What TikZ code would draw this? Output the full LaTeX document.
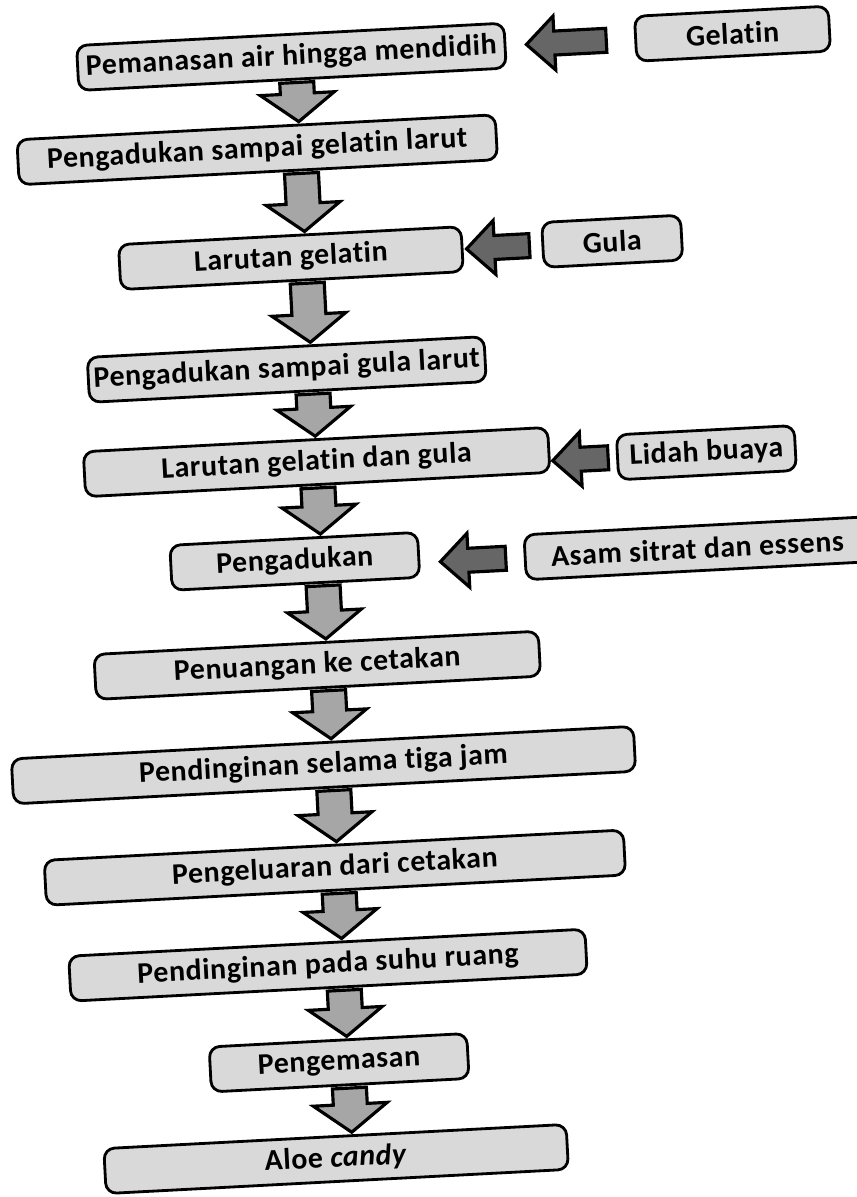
\documentclass[tikz,border=0pt]{standalone}
\usepackage{fontspec}
\setmainfont{Carlito}[Ligatures=NoCommon, LetterSpace=2]
\usetikzlibrary{positioning, calc}
\tikzset{
  stepbox/.style={rectangle, rounded corners=6pt, draw=black, line width=1.6pt,
                  fill=black!15, minimum height=0.9cm, inner sep=3pt,
                  font=\fontsize{17}{20}\selectfont\bfseries},
  addbox/.style={stepbox},
  flowarrow/.style={draw=black, line width=1.8pt, fill=black!35, line join=miter},
  feedarrow/.style={draw=black, line width=1.8pt, fill=black!60, line join=miter},
}
% block arrow on the axis, step #1 down to step #2
\newcommand{\flowdown}[2]{%
  \path ($(axtop)!(#1.south)!(axbot)$) coordinate (ftop)
        ($(axtop)!(#2.north)!(axbot)$) coordinate (ftip);
  \draw[flowarrow] ($(ftip)+(0,-2)$) -- ($(ftip)+(-37,-30)$) -- ($(ftip)+(-17,-30)$)
    -- ($(ftop)+(-17,2)$) -- ($(ftop)+(17,2)$) -- ($(ftip)+(17,-30)$)
    -- ($(ftip)+(37,-30)$) -- cycle;
}
% block arrow from ingredient #1 into step #2, gaps #3 (tip) and #4 (tail)
\newcommand{\feedin}[4]{%
  \path (#1.west) coordinate (ftail) ($(ftail)+(-50,0)$) coordinate (faux)
        ($(ftail)!(#2.east)!(faux)$) coordinate (fhit);
  \draw[feedarrow] ($(fhit)+(#3,0)$) -- ($(fhit)+(#3+28,-27)$) -- ($(fhit)+(#3+28,-12)$)
    -- ($(ftail)+(-#4,-12)$) -- ($(ftail)+(-#4,12)$) -- ($(fhit)+(#3+28,12)$)
    -- ($(fhit)+(#3+28,27)$) -- cycle;
}

\begin{document}
\begin{tikzpicture}[x=0.02cm, y=-0.02cm]
  \useasboundingbox (0,0) rectangle (856,1197);
  \begin{scope}[rotate=3, transform shape]
    \coordinate (axtop) at (292,0);
    \coordinate (axbot) at (292,1200);
    % process steps
    \node[stepbox, minimum width=8.56cm] (panas) at (288,72) {Pemanasan air hingga mendidih};
    \node[stepbox, minimum width=9.58cm] (aduk1) at (249,163) {Pengadukan sampai gelatin larut};
    \node[stepbox, minimum width=6.86cm] (larut1) at (277,273) {Larutan gelatin};
    \node[stepbox, minimum width=7.66cm] (aduk2) at (267,384) {Pengadukan sampai gula larut};
    \node[stepbox, minimum width=9.30cm] (larut2) at (292,478) {Larutan gelatin dan gula};
    \node[stepbox, minimum width=4.96cm] (aduk3) at (265,576) {Pengadukan};
    \node[stepbox, minimum width=8.90cm] (tuang) at (282,681) {Penuangan ke cetakan};
    \node[stepbox, minimum width=12.46cm] (dingin1) at (283,781) {Pendinginan selama tiga jam};
    \node[stepbox, minimum width=11.60cm] (keluar) at (289,884) {Pengeluaran dari cetakan};
    \node[stepbox, minimum width=10.34cm] (dingin2) at (277,981) {Pendinginan pada suhu ruang};
    \node[stepbox, minimum width=5.16cm] (kemas) at (283,1079) {Pengemasan};
    \node[stepbox, minimum width=9.26cm] (candy) at (275,1175) {Aloe \textit{candy}};
    % ingredients
    \node[addbox, right=2.56cm of panas, minimum width=3.88cm] (gelatin) {Gelatin};
    \node[addbox, right=1.56cm of larut1, minimum width=2.78cm] (gula) {Gula};
    \node[addbox, right=1.31cm of larut2, yshift=-0.22cm, minimum width=3.56cm] (lidah) {Lidah buaya};
    \node[addbox, right=2.07cm of aduk3, yshift=-0.16cm, minimum width=6.90cm] (asam) {Asam sitrat dan essens};
    % flow
    \flowdown{panas}{aduk1}
    \flowdown{aduk1}{larut1}
    \flowdown{larut1}{aduk2}
    \flowdown{aduk2}{larut2}
    \flowdown{larut2}{aduk3}
    \flowdown{aduk3}{tuang}
    \flowdown{tuang}{dingin1}
    \flowdown{dingin1}{keluar}
    \flowdown{keluar}{dingin2}
    \flowdown{dingin2}{kemas}
    \flowdown{kemas}{candy}
    \feedin{gelatin}{panas}{20}{28}
    \feedin{gula}{larut1}{3}{12}
    \feedin{lidah}{larut2}{2}{8}
    \feedin{asam}{aduk3}{20}{18}
  \end{scope}
\end{tikzpicture}
\end{document}
